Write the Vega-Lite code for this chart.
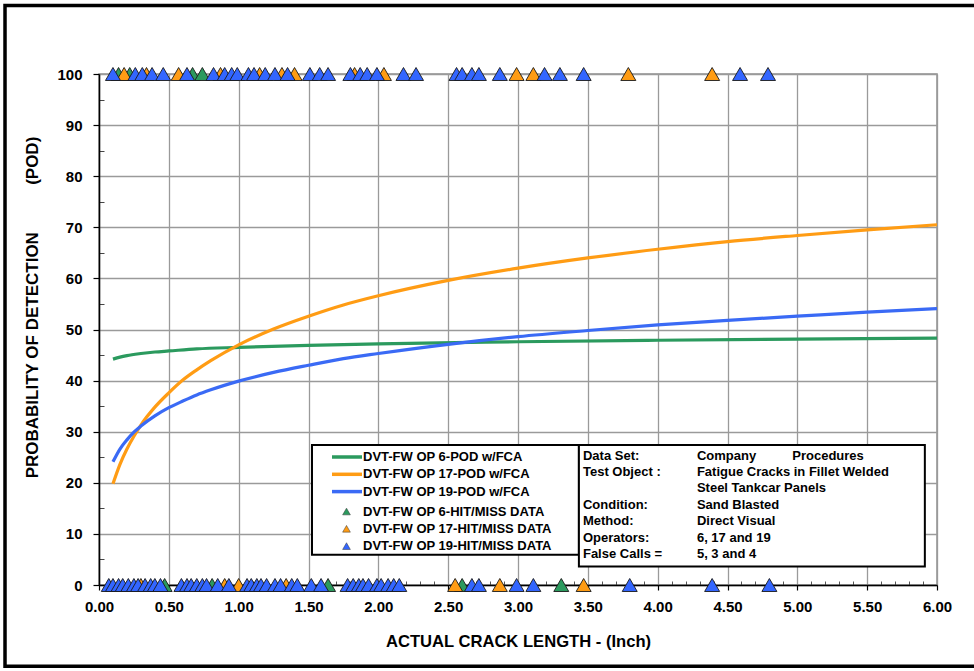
{
  "$schema": "https://vega.github.io/schema/vega-lite/v6.json",
  "width": 838,
  "height": 511,
  "autosize": {"type": "none"},
  "padding": {"left": 99, "top": 74, "right": 37, "bottom": 86},
  "background": "white",
  "config": {
    "font": "Liberation Sans",
    "view": {"stroke": "#8f8f8f", "strokeWidth": 1.5},
    "axis": {
      "labelFont": "Liberation Sans",
      "labelFontSize": 15,
      "labelFontWeight": "bold",
      "labelColor": "black",
      "labelFlush": false,
      "labelOverlap": false,
      "labelBound": false,
      "titleFont": "Liberation Sans",
      "titleFontSize": 16.6,
      "titleFontWeight": "bold",
      "titleColor": "black",
      "domainColor": "black",
      "domainWidth": 1.5,
      "tickColor": "black",
      "tickWidth": 1.2,
      "gridColor": "#9a9a9a",
      "gridWidth": 1.3
    },
    "legend": {
      "labelFont": "Liberation Sans",
      "labelFontSize": 13,
      "labelFontWeight": "bold",
      "labelColor": "black",
      "labelLimit": 400,
      "padding": 0,
      "rowPadding": 3.3,
      "title": null
    }
  },
  "datasets": {
    "curves": [
      {"x": 0.1, "pod": 44.2, "series": "DVT-FW OP 6-POD w/FCA"},
      {"x": 0.15, "pod": 44.6, "series": "DVT-FW OP 6-POD w/FCA"},
      {"x": 0.2, "pod": 44.9, "series": "DVT-FW OP 6-POD w/FCA"},
      {"x": 0.3, "pod": 45.3, "series": "DVT-FW OP 6-POD w/FCA"},
      {"x": 0.4, "pod": 45.6, "series": "DVT-FW OP 6-POD w/FCA"},
      {"x": 0.5, "pod": 45.8, "series": "DVT-FW OP 6-POD w/FCA"},
      {"x": 0.7, "pod": 46.2, "series": "DVT-FW OP 6-POD w/FCA"},
      {"x": 1.0, "pod": 46.5, "series": "DVT-FW OP 6-POD w/FCA"},
      {"x": 1.5, "pod": 46.9, "series": "DVT-FW OP 6-POD w/FCA"},
      {"x": 2.0, "pod": 47.2, "series": "DVT-FW OP 6-POD w/FCA"},
      {"x": 3.0, "pod": 47.6, "series": "DVT-FW OP 6-POD w/FCA"},
      {"x": 4.0, "pod": 47.9, "series": "DVT-FW OP 6-POD w/FCA"},
      {"x": 5.0, "pod": 48.1, "series": "DVT-FW OP 6-POD w/FCA"},
      {"x": 6.0, "pod": 48.3, "series": "DVT-FW OP 6-POD w/FCA"},
      {"x": 0.1, "pod": 19.8, "series": "DVT-FW OP 17-POD w/FCA"},
      {"x": 0.15, "pod": 23.6, "series": "DVT-FW OP 17-POD w/FCA"},
      {"x": 0.2, "pod": 26.6, "series": "DVT-FW OP 17-POD w/FCA"},
      {"x": 0.25, "pod": 29.1, "series": "DVT-FW OP 17-POD w/FCA"},
      {"x": 0.3, "pod": 31.3, "series": "DVT-FW OP 17-POD w/FCA"},
      {"x": 0.4, "pod": 34.8, "series": "DVT-FW OP 17-POD w/FCA"},
      {"x": 0.5, "pod": 37.6, "series": "DVT-FW OP 17-POD w/FCA"},
      {"x": 0.6, "pod": 40.1, "series": "DVT-FW OP 17-POD w/FCA"},
      {"x": 0.7, "pod": 42.1, "series": "DVT-FW OP 17-POD w/FCA"},
      {"x": 0.8, "pod": 43.9, "series": "DVT-FW OP 17-POD w/FCA"},
      {"x": 1.0, "pod": 47.0, "series": "DVT-FW OP 17-POD w/FCA"},
      {"x": 1.25, "pod": 50.1, "series": "DVT-FW OP 17-POD w/FCA"},
      {"x": 1.5, "pod": 52.6, "series": "DVT-FW OP 17-POD w/FCA"},
      {"x": 1.75, "pod": 54.8, "series": "DVT-FW OP 17-POD w/FCA"},
      {"x": 2.0, "pod": 56.6, "series": "DVT-FW OP 17-POD w/FCA"},
      {"x": 2.5, "pod": 59.6, "series": "DVT-FW OP 17-POD w/FCA"},
      {"x": 3.0, "pod": 62.0, "series": "DVT-FW OP 17-POD w/FCA"},
      {"x": 3.5, "pod": 64.0, "series": "DVT-FW OP 17-POD w/FCA"},
      {"x": 4.0, "pod": 65.7, "series": "DVT-FW OP 17-POD w/FCA"},
      {"x": 4.5, "pod": 67.2, "series": "DVT-FW OP 17-POD w/FCA"},
      {"x": 5.0, "pod": 68.4, "series": "DVT-FW OP 17-POD w/FCA"},
      {"x": 5.5, "pod": 69.5, "series": "DVT-FW OP 17-POD w/FCA"},
      {"x": 6.0, "pod": 70.5, "series": "DVT-FW OP 17-POD w/FCA"},
      {"x": 0.1, "pod": 24.1, "series": "DVT-FW OP 19-POD w/FCA"},
      {"x": 0.15, "pod": 26.6, "series": "DVT-FW OP 19-POD w/FCA"},
      {"x": 0.2, "pod": 28.4, "series": "DVT-FW OP 19-POD w/FCA"},
      {"x": 0.25, "pod": 29.9, "series": "DVT-FW OP 19-POD w/FCA"},
      {"x": 0.3, "pod": 31.1, "series": "DVT-FW OP 19-POD w/FCA"},
      {"x": 0.4, "pod": 33.1, "series": "DVT-FW OP 19-POD w/FCA"},
      {"x": 0.5, "pod": 34.7, "series": "DVT-FW OP 19-POD w/FCA"},
      {"x": 0.6, "pod": 36.0, "series": "DVT-FW OP 19-POD w/FCA"},
      {"x": 0.7, "pod": 37.2, "series": "DVT-FW OP 19-POD w/FCA"},
      {"x": 0.8, "pod": 38.2, "series": "DVT-FW OP 19-POD w/FCA"},
      {"x": 1.0, "pod": 39.9, "series": "DVT-FW OP 19-POD w/FCA"},
      {"x": 1.25, "pod": 41.6, "series": "DVT-FW OP 19-POD w/FCA"},
      {"x": 1.5, "pod": 43.0, "series": "DVT-FW OP 19-POD w/FCA"},
      {"x": 1.75, "pod": 44.3, "series": "DVT-FW OP 19-POD w/FCA"},
      {"x": 2.0, "pod": 45.3, "series": "DVT-FW OP 19-POD w/FCA"},
      {"x": 2.5, "pod": 47.1, "series": "DVT-FW OP 19-POD w/FCA"},
      {"x": 3.0, "pod": 48.6, "series": "DVT-FW OP 19-POD w/FCA"},
      {"x": 3.5, "pod": 49.8, "series": "DVT-FW OP 19-POD w/FCA"},
      {"x": 4.0, "pod": 50.9, "series": "DVT-FW OP 19-POD w/FCA"},
      {"x": 4.5, "pod": 51.8, "series": "DVT-FW OP 19-POD w/FCA"},
      {"x": 5.0, "pod": 52.6, "series": "DVT-FW OP 19-POD w/FCA"},
      {"x": 5.5, "pod": 53.4, "series": "DVT-FW OP 19-POD w/FCA"},
      {"x": 6.0, "pod": 54.1, "series": "DVT-FW OP 19-POD w/FCA"}
    ],
    "hits": [
      {"x": 0.14, "pod": 100, "series": "DVT-FW OP 6-HIT/MISS DATA"},
      {"x": 0.22, "pod": 100, "series": "DVT-FW OP 6-HIT/MISS DATA"},
      {"x": 0.67, "pod": 100, "series": "DVT-FW OP 6-HIT/MISS DATA"},
      {"x": 0.74, "pod": 100, "series": "DVT-FW OP 6-HIT/MISS DATA"},
      {"x": 0.47, "pod": 0, "series": "DVT-FW OP 6-HIT/MISS DATA"},
      {"x": 0.81, "pod": 0, "series": "DVT-FW OP 6-HIT/MISS DATA"},
      {"x": 1.64, "pod": 0, "series": "DVT-FW OP 6-HIT/MISS DATA"},
      {"x": 2.6, "pod": 0, "series": "DVT-FW OP 6-HIT/MISS DATA"},
      {"x": 3.31, "pod": 0, "series": "DVT-FW OP 6-HIT/MISS DATA"},
      {"x": 0.18, "pod": 100, "series": "DVT-FW OP 17-HIT/MISS DATA"},
      {"x": 0.34, "pod": 100, "series": "DVT-FW OP 17-HIT/MISS DATA"},
      {"x": 0.57, "pod": 100, "series": "DVT-FW OP 17-HIT/MISS DATA"},
      {"x": 0.87, "pod": 100, "series": "DVT-FW OP 17-HIT/MISS DATA"},
      {"x": 1.15, "pod": 100, "series": "DVT-FW OP 17-HIT/MISS DATA"},
      {"x": 1.31, "pod": 100, "series": "DVT-FW OP 17-HIT/MISS DATA"},
      {"x": 1.4, "pod": 100, "series": "DVT-FW OP 17-HIT/MISS DATA"},
      {"x": 1.83, "pod": 100, "series": "DVT-FW OP 17-HIT/MISS DATA"},
      {"x": 2.04, "pod": 100, "series": "DVT-FW OP 17-HIT/MISS DATA"},
      {"x": 2.99, "pod": 100, "series": "DVT-FW OP 17-HIT/MISS DATA"},
      {"x": 3.11, "pod": 100, "series": "DVT-FW OP 17-HIT/MISS DATA"},
      {"x": 3.79, "pod": 100, "series": "DVT-FW OP 17-HIT/MISS DATA"},
      {"x": 4.39, "pod": 100, "series": "DVT-FW OP 17-HIT/MISS DATA"},
      {"x": 0.3, "pod": 0, "series": "DVT-FW OP 17-HIT/MISS DATA"},
      {"x": 0.9, "pod": 0, "series": "DVT-FW OP 17-HIT/MISS DATA"},
      {"x": 1.0, "pod": 0, "series": "DVT-FW OP 17-HIT/MISS DATA"},
      {"x": 1.34, "pod": 0, "series": "DVT-FW OP 17-HIT/MISS DATA"},
      {"x": 2.55, "pod": 0, "series": "DVT-FW OP 17-HIT/MISS DATA"},
      {"x": 2.87, "pod": 0, "series": "DVT-FW OP 17-HIT/MISS DATA"},
      {"x": 3.47, "pod": 0, "series": "DVT-FW OP 17-HIT/MISS DATA"},
      {"x": 0.1, "pod": 100, "series": "DVT-FW OP 19-HIT/MISS DATA"},
      {"x": 0.26, "pod": 100, "series": "DVT-FW OP 19-HIT/MISS DATA"},
      {"x": 0.31, "pod": 100, "series": "DVT-FW OP 19-HIT/MISS DATA"},
      {"x": 0.38, "pod": 100, "series": "DVT-FW OP 19-HIT/MISS DATA"},
      {"x": 0.46, "pod": 100, "series": "DVT-FW OP 19-HIT/MISS DATA"},
      {"x": 0.63, "pod": 100, "series": "DVT-FW OP 19-HIT/MISS DATA"},
      {"x": 0.82, "pod": 100, "series": "DVT-FW OP 19-HIT/MISS DATA"},
      {"x": 0.9, "pod": 100, "series": "DVT-FW OP 19-HIT/MISS DATA"},
      {"x": 0.95, "pod": 100, "series": "DVT-FW OP 19-HIT/MISS DATA"},
      {"x": 0.99, "pod": 100, "series": "DVT-FW OP 19-HIT/MISS DATA"},
      {"x": 1.07, "pod": 100, "series": "DVT-FW OP 19-HIT/MISS DATA"},
      {"x": 1.11, "pod": 100, "series": "DVT-FW OP 19-HIT/MISS DATA"},
      {"x": 1.19, "pod": 100, "series": "DVT-FW OP 19-HIT/MISS DATA"},
      {"x": 1.26, "pod": 100, "series": "DVT-FW OP 19-HIT/MISS DATA"},
      {"x": 1.35, "pod": 100, "series": "DVT-FW OP 19-HIT/MISS DATA"},
      {"x": 1.51, "pod": 100, "series": "DVT-FW OP 19-HIT/MISS DATA"},
      {"x": 1.58, "pod": 100, "series": "DVT-FW OP 19-HIT/MISS DATA"},
      {"x": 1.64, "pod": 100, "series": "DVT-FW OP 19-HIT/MISS DATA"},
      {"x": 1.8, "pod": 100, "series": "DVT-FW OP 19-HIT/MISS DATA"},
      {"x": 1.87, "pod": 100, "series": "DVT-FW OP 19-HIT/MISS DATA"},
      {"x": 1.92, "pod": 100, "series": "DVT-FW OP 19-HIT/MISS DATA"},
      {"x": 1.99, "pod": 100, "series": "DVT-FW OP 19-HIT/MISS DATA"},
      {"x": 2.18, "pod": 100, "series": "DVT-FW OP 19-HIT/MISS DATA"},
      {"x": 2.27, "pod": 100, "series": "DVT-FW OP 19-HIT/MISS DATA"},
      {"x": 2.56, "pod": 100, "series": "DVT-FW OP 19-HIT/MISS DATA"},
      {"x": 2.6, "pod": 100, "series": "DVT-FW OP 19-HIT/MISS DATA"},
      {"x": 2.67, "pod": 100, "series": "DVT-FW OP 19-HIT/MISS DATA"},
      {"x": 2.72, "pod": 100, "series": "DVT-FW OP 19-HIT/MISS DATA"},
      {"x": 2.87, "pod": 100, "series": "DVT-FW OP 19-HIT/MISS DATA"},
      {"x": 3.19, "pod": 100, "series": "DVT-FW OP 19-HIT/MISS DATA"},
      {"x": 3.3, "pod": 100, "series": "DVT-FW OP 19-HIT/MISS DATA"},
      {"x": 3.47, "pod": 100, "series": "DVT-FW OP 19-HIT/MISS DATA"},
      {"x": 4.59, "pod": 100, "series": "DVT-FW OP 19-HIT/MISS DATA"},
      {"x": 4.79, "pod": 100, "series": "DVT-FW OP 19-HIT/MISS DATA"},
      {"x": 0.07, "pod": 0, "series": "DVT-FW OP 19-HIT/MISS DATA"},
      {"x": 0.1, "pod": 0, "series": "DVT-FW OP 19-HIT/MISS DATA"},
      {"x": 0.14, "pod": 0, "series": "DVT-FW OP 19-HIT/MISS DATA"},
      {"x": 0.17, "pod": 0, "series": "DVT-FW OP 19-HIT/MISS DATA"},
      {"x": 0.21, "pod": 0, "series": "DVT-FW OP 19-HIT/MISS DATA"},
      {"x": 0.25, "pod": 0, "series": "DVT-FW OP 19-HIT/MISS DATA"},
      {"x": 0.28, "pod": 0, "series": "DVT-FW OP 19-HIT/MISS DATA"},
      {"x": 0.33, "pod": 0, "series": "DVT-FW OP 19-HIT/MISS DATA"},
      {"x": 0.37, "pod": 0, "series": "DVT-FW OP 19-HIT/MISS DATA"},
      {"x": 0.4, "pod": 0, "series": "DVT-FW OP 19-HIT/MISS DATA"},
      {"x": 0.44, "pod": 0, "series": "DVT-FW OP 19-HIT/MISS DATA"},
      {"x": 0.59, "pod": 0, "series": "DVT-FW OP 19-HIT/MISS DATA"},
      {"x": 0.63, "pod": 0, "series": "DVT-FW OP 19-HIT/MISS DATA"},
      {"x": 0.66, "pod": 0, "series": "DVT-FW OP 19-HIT/MISS DATA"},
      {"x": 0.7, "pod": 0, "series": "DVT-FW OP 19-HIT/MISS DATA"},
      {"x": 0.74, "pod": 0, "series": "DVT-FW OP 19-HIT/MISS DATA"},
      {"x": 0.77, "pod": 0, "series": "DVT-FW OP 19-HIT/MISS DATA"},
      {"x": 0.85, "pod": 0, "series": "DVT-FW OP 19-HIT/MISS DATA"},
      {"x": 0.93, "pod": 0, "series": "DVT-FW OP 19-HIT/MISS DATA"},
      {"x": 1.06, "pod": 0, "series": "DVT-FW OP 19-HIT/MISS DATA"},
      {"x": 1.09, "pod": 0, "series": "DVT-FW OP 19-HIT/MISS DATA"},
      {"x": 1.13, "pod": 0, "series": "DVT-FW OP 19-HIT/MISS DATA"},
      {"x": 1.16, "pod": 0, "series": "DVT-FW OP 19-HIT/MISS DATA"},
      {"x": 1.2, "pod": 0, "series": "DVT-FW OP 19-HIT/MISS DATA"},
      {"x": 1.26, "pod": 0, "series": "DVT-FW OP 19-HIT/MISS DATA"},
      {"x": 1.3, "pod": 0, "series": "DVT-FW OP 19-HIT/MISS DATA"},
      {"x": 1.38, "pod": 0, "series": "DVT-FW OP 19-HIT/MISS DATA"},
      {"x": 1.42, "pod": 0, "series": "DVT-FW OP 19-HIT/MISS DATA"},
      {"x": 1.52, "pod": 0, "series": "DVT-FW OP 19-HIT/MISS DATA"},
      {"x": 1.59, "pod": 0, "series": "DVT-FW OP 19-HIT/MISS DATA"},
      {"x": 1.78, "pod": 0, "series": "DVT-FW OP 19-HIT/MISS DATA"},
      {"x": 1.82, "pod": 0, "series": "DVT-FW OP 19-HIT/MISS DATA"},
      {"x": 1.86, "pod": 0, "series": "DVT-FW OP 19-HIT/MISS DATA"},
      {"x": 1.89, "pod": 0, "series": "DVT-FW OP 19-HIT/MISS DATA"},
      {"x": 1.93, "pod": 0, "series": "DVT-FW OP 19-HIT/MISS DATA"},
      {"x": 1.99, "pod": 0, "series": "DVT-FW OP 19-HIT/MISS DATA"},
      {"x": 2.02, "pod": 0, "series": "DVT-FW OP 19-HIT/MISS DATA"},
      {"x": 2.07, "pod": 0, "series": "DVT-FW OP 19-HIT/MISS DATA"},
      {"x": 2.11, "pod": 0, "series": "DVT-FW OP 19-HIT/MISS DATA"},
      {"x": 2.15, "pod": 0, "series": "DVT-FW OP 19-HIT/MISS DATA"},
      {"x": 2.67, "pod": 0, "series": "DVT-FW OP 19-HIT/MISS DATA"},
      {"x": 2.72, "pod": 0, "series": "DVT-FW OP 19-HIT/MISS DATA"},
      {"x": 2.99, "pod": 0, "series": "DVT-FW OP 19-HIT/MISS DATA"},
      {"x": 3.11, "pod": 0, "series": "DVT-FW OP 19-HIT/MISS DATA"},
      {"x": 3.8, "pod": 0, "series": "DVT-FW OP 19-HIT/MISS DATA"},
      {"x": 4.39, "pod": 0, "series": "DVT-FW OP 19-HIT/MISS DATA"},
      {"x": 4.8, "pod": 0, "series": "DVT-FW OP 19-HIT/MISS DATA"}
    ],
    "note": [
      {
        "keysTop": ["Data Set:", "Test Object :"],
        "keysBottom": ["Condition:", "Method:", "Operators:", "False Calls ="],
        "vals": ["Company\u00a0\u00a0\u00a0\u00a0\u00a0\u00a0\u00a0\u00a0\u00a0\u00a0Procedures", "Fatigue Cracks in Fillet Welded", "Steel Tankcar Panels", "Sand Blasted", "Direct Visual", "6, 17 and 19", "5, 3 and 4"]
      }
    ]
  },
  "layer": [
    {
      "description": "Outer frame; its axes carry only the minor ticks",
      "data": {"values": [{}]},
      "mark": {"type": "rect", "fillOpacity": 0, "stroke": "black", "strokeWidth": 3.5, "clip": false},
      "encoding": {
        "x": {"datum": -0.673, "type": "quantitative", "scale": {"domain": [0, 6], "nice": false, "zero": false},
          "axis": {"orient": "bottom", "values": [0.1,0.2,0.3,0.4,0.6,0.7,0.8,0.9,1.1,1.2,1.3,1.4,1.6,1.7,1.8,1.9,2.1,2.2,2.3,2.4,2.6,2.7,2.8,2.9,3.1,3.2,3.3,3.4,3.6,3.7,3.8,3.9,4.1,4.2,4.3,4.4,4.6,4.7,4.8,4.9,5.1,5.2,5.3,5.4,5.6,5.7,5.8,5.9],
            "labels": false, "domain": false, "grid": false, "title": null, "tickSize": -4, "tickColor": "#555", "tickWidth": 1}},
        "x2": {"datum": 6.7},
        "y": {"datum": 113.4, "type": "quantitative", "scale": {"domain": [0, 100], "nice": false},
          "axis": {"orient": "left", "values": [5,15,25,35,45,55,65,75,85,95], "labels": false, "domain": false, "grid": false, "title": null, "tickSize": -5, "tickColor": "#444", "tickWidth": 1}},
        "y2": {"datum": -15.9}
      }
    },
    {
      "data": {"name": "curves"},
      "mark": {"type": "line", "strokeWidth": 3.2, "interpolate": "monotone"},
      "encoding": {
        "x": {"field": "x", "type": "quantitative", "scale": {"domain": [0, 6], "nice": false, "zero": false},
          "axis": {"orient": "bottom", "grid": true, "values": [0,0.5,1,1.5,2,2.5,3,3.5,4,4.5,5,5.5,6], "format": ".2f", "tickSize": 5, "labelPadding": 9,
            "title": "ACTUAL CRACK LENGTH - (Inch)", "titleX": 419, "titleY": 56, "titleBaseline": "middle", "titleAlign": "center"}},
        "y": {"field": "pod", "type": "quantitative", "scale": {"domain": [0, 100], "nice": false},
          "axis": {"orient": "left", "grid": true, "values": [0,10,20,30,40,50,60,70,80,90,100], "format": "d", "tickSize": 6, "labelPadding": 11,
            "title": "PROBABILITY OF DETECTION\u00a0\u00a0\u00a0\u00a0\u00a0\u00a0\u00a0\u00a0\u00a0\u00a0(POD)", "titleFontSize": 17, "titleX": -67, "titleY": 233, "titleAngle": -90, "titleBaseline": "middle", "titleAlign": "center"}},
        "stroke": {
          "field": "series", "type": "nominal",
          "scale": {
            "domain": ["DVT-FW OP 6-POD w/FCA", "DVT-FW OP 17-POD w/FCA", "DVT-FW OP 19-POD w/FCA"],
            "range": ["#2b9a5e", "#ff9c14", "#3a6af5"]
          },
          "legend": {
            "orient": "none", "legendX": 241, "legendY": 376, "direction": "vertical",
            "symbolType": "M-3,0H3", "symbolSize": 100, "symbolStrokeWidth": 3.5, "labelOffset": 9
          }
        }
      }
    },
    {
      "data": {"values": [{}]},
      "mark": {"type": "rect", "fill": "white", "stroke": "black", "strokeWidth": 2},
      "encoding": {
        "x": {"datum": 1.525, "type": "quantitative", "axis": null},
        "x2": {"datum": 3.436},
        "y": {"datum": 27.4, "type": "quantitative", "axis": null},
        "y2": {"datum": 5.9}
      }
    },
    {
      "data": {"name": "hits"},
      "mark": {"type": "point", "shape": "triangle-up", "filled": true, "size": 225, "stroke": "#1a1a1a", "strokeWidth": 0.9, "opacity": 1, "clip": false},
      "encoding": {
        "x": {"field": "x", "type": "quantitative", "axis": null},
        "y": {"field": "pod", "type": "quantitative", "axis": null},
        "fill": {
          "field": "series", "type": "nominal",
          "scale": {
            "domain": ["DVT-FW OP 6-HIT/MISS DATA", "DVT-FW OP 17-HIT/MISS DATA", "DVT-FW OP 19-HIT/MISS DATA"],
            "range": ["#2b9a5e", "#ff9c14", "#3366ff"]
          },
          "legend": {
            "orient": "none", "legendX": 241, "legendY": 431, "direction": "vertical",
            "symbolType": "triangle-up", "symbolSize": 60, "symbolStrokeColor": "#333333", "symbolStrokeWidth": 0.5, "labelOffset": 10
          }
        }
      }
    },
    {
      "data": {"values": [{}]},
      "mark": {"type": "rect", "fill": "white", "stroke": "black", "strokeWidth": 2},
      "encoding": {
        "x": {"datum": 3.436, "type": "quantitative", "axis": null},
        "x2": {"datum": 5.913},
        "y": {"datum": 27.4, "type": "quantitative", "axis": null},
        "y2": {"datum": 3.62}
      }
    },
    {
      "data": {"name": "note"},
      "mark": {"type": "text", "align": "left", "baseline": "top", "font": "Liberation Sans", "fontSize": 13, "fontWeight": "bold", "lineHeight": 16.4, "color": "black"},
      "encoding": {
        "x": {"datum": 3.465, "type": "quantitative", "axis": null},
        "y": {"datum": 26.5, "type": "quantitative", "axis": null},
        "text": {"field": "keysTop"}
      }
    },
    {
      "data": {"name": "note"},
      "mark": {"type": "text", "align": "left", "baseline": "top", "font": "Liberation Sans", "fontSize": 13, "fontWeight": "bold", "lineHeight": 16.4, "color": "black"},
      "encoding": {
        "x": {"datum": 3.465, "type": "quantitative", "axis": null},
        "y": {"datum": 16.87, "type": "quantitative", "axis": null},
        "text": {"field": "keysBottom"}
      }
    },
    {
      "data": {"name": "note"},
      "mark": {"type": "text", "align": "left", "baseline": "top", "font": "Liberation Sans", "fontSize": 13, "fontWeight": "bold", "lineHeight": 16.4, "color": "black"},
      "encoding": {
        "x": {"datum": 4.281, "type": "quantitative", "axis": null},
        "y": {"datum": 26.5, "type": "quantitative", "axis": null},
        "text": {"field": "vals"}
      }
    }
  ],
  "resolve": {"axis": {"x": "independent", "y": "independent"}}
}
